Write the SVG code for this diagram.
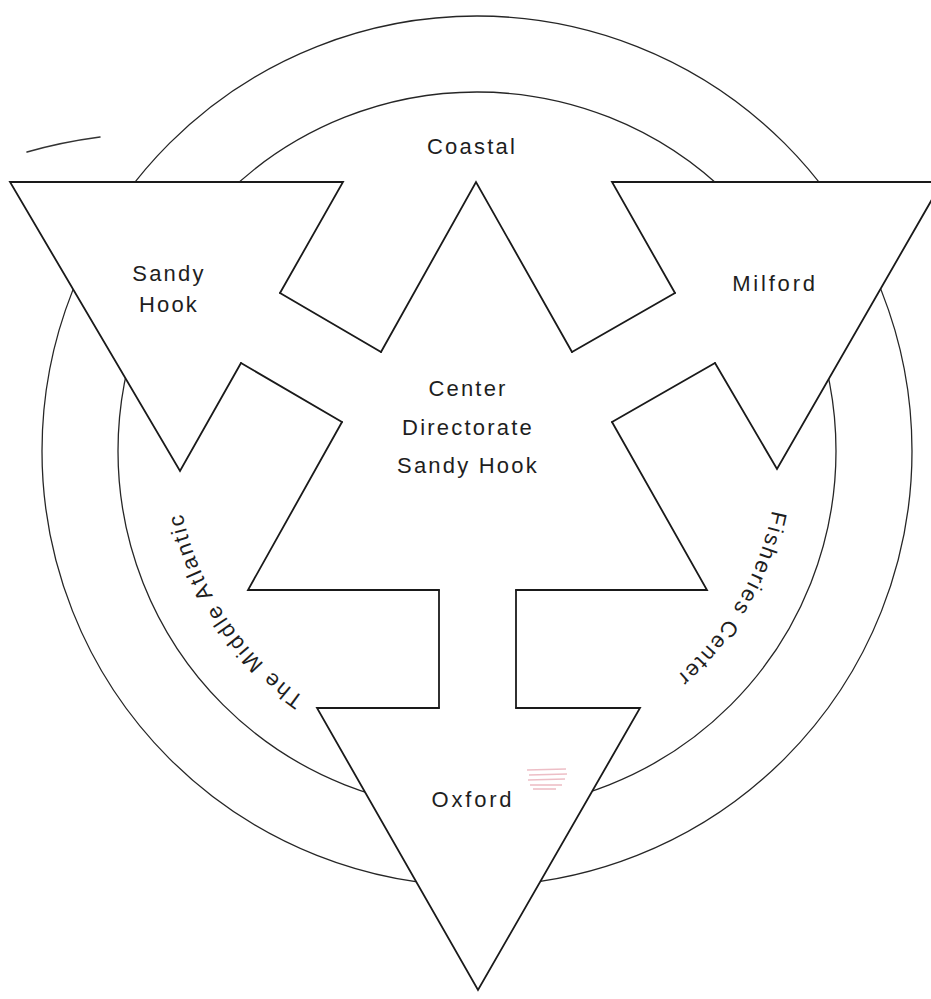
<svg xmlns="http://www.w3.org/2000/svg" width="931" height="999" viewBox="0 0 931 999">
<style>
.ring{fill:none;stroke:#262626;stroke-width:1.3}
.edge{fill:none;stroke:#1a1a1a;stroke-width:1.8;stroke-linejoin:miter;stroke-linecap:round}
.conn{fill:none;stroke:#1a1a1a;stroke-width:1.8;stroke-linecap:round}
.lbl{font-family:"Liberation Sans",Arial,Helvetica,sans-serif;font-size:22px;fill:#1e1e1e;text-anchor:middle;letter-spacing:2.2px}
.wide{letter-spacing:2.8px}
</style>
<defs>
<path id="arc" d="M 778 451 A 301 301 0 1 1 176 451 A 301 301 0 1 1 778 451"/>
</defs>
<rect width="931" height="999" fill="#ffffff"/>
<g id="rings">
<circle class="ring" cx="477" cy="451" r="435"/>
<circle class="ring" cx="477" cy="451" r="359"/>
</g>
<path id="emblem-fill" fill="#ffffff" d="M10,182 L343,182 L280,293 L381,352 L476,182 L572,352 L675,293 L612,182 L942,182 L777,469 L715,363 L612,422 L707,590 L516,590 L516,708 L640,708 L478,990 L317,708 L439,708 L439,590 L248,590 L342,422 L241,363 L180,471 Z"/>
<g id="connectors">
<line class="conn" x1="280" y1="293" x2="381" y2="352"/>
<line class="conn" x1="241" y1="363" x2="342" y2="422"/>
<line class="conn" x1="675" y1="293" x2="572" y2="352"/>
<line class="conn" x1="715" y1="363" x2="612" y2="422"/>
<line class="conn" x1="439" y1="590" x2="439" y2="708"/>
<line class="conn" x1="516" y1="590" x2="516" y2="708"/>
</g>
<g id="node-center">
<polyline class="edge" points="381,352 476,182 572,352"/>
<polyline class="edge" points="612,422 707,590 516,590"/>
<polyline class="edge" points="439,590 248,590 342,422"/>
<text class="lbl" x="468" y="396">Center</text>
<text class="lbl" x="468" y="435">Directorate</text>
<text class="lbl" x="468" y="473">Sandy Hook</text>
</g>
<g id="node-sandy-hook">
<polyline class="edge" points="241,363 180,471 10,182 343,182 280,293"/>
<text class="lbl" x="169" y="281">Sandy</text>
<text class="lbl" x="169" y="312">Hook</text>
</g>
<g id="node-milford">
<polyline class="edge" points="675,293 612,182 942,182 777,469 715,363"/>
<text class="lbl wide" x="775" y="291">Milford</text>
</g>
<g id="node-oxford">
<polyline class="edge" points="516,708 640,708 478,990 317,708 439,708"/>
<text class="lbl wide" x="473" y="807">Oxford</text>
</g>
<g id="ring-title">
<text class="lbl" x="472" y="154">Coastal</text>
<text class="lbl"><textPath href="#arc" startOffset="770">The Middle Atlantic</textPath></text>
<text class="lbl"><textPath href="#arc" startOffset="158">Fisheries Center</textPath></text>
</g>
<g id="marks">
<path d="M27,152 Q62,142 100,137" fill="none" stroke="#333" stroke-width="1.5" stroke-linecap="round"/>
<g stroke="#e08a98" stroke-width="1.6" opacity="0.55">
<line x1="527" y1="770" x2="566" y2="769"/>
<line x1="529" y1="775" x2="567" y2="774"/>
<line x1="528" y1="780" x2="565" y2="779"/>
<line x1="530" y1="785" x2="562" y2="785"/>
<line x1="533" y1="789" x2="556" y2="789"/>
</g>
</g>
</svg>
